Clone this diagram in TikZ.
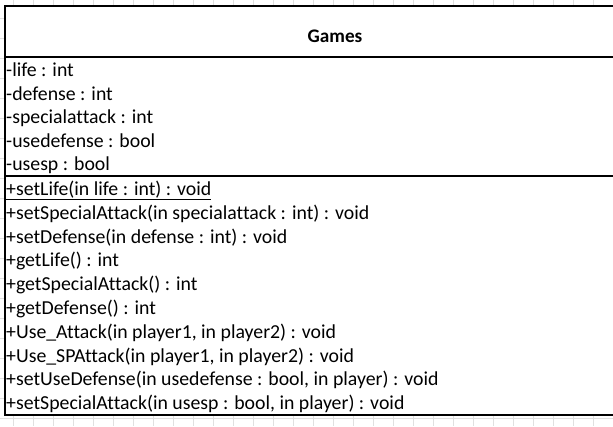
\documentclass[tikz,border=0pt]{standalone}
\usepackage{fontspec}
\setmainfont[Ligatures=CommonOff]{Carlito}
\begin{document}
\begin{tikzpicture}[x=1pt,y=-1pt,
  txt/.style={anchor=base west,inner sep=0pt,font=\fontsize{19.8}{23}\selectfont},
  ttl/.style={anchor=base,inner sep=0pt,font=\fontsize{19.2}{23}\selectfont\bfseries},
  gridln/.style={draw=black!12,line width=0.8pt},
  boxln/.style={draw=black,line width=1.2pt}]
\useasboundingbox (0,0) rectangle (613,426);
\clip (0,0) rectangle (613,426);
\fill[white] (0,0) rectangle (613,426);
\foreach \i in {0,...,30} {\draw[gridln] (13.7+20*\i,0) -- (13.7+20*\i,426);}
\foreach \j in {0,...,21} {\draw[gridln] (0,18+20*\j) -- (613,18+20*\j);}
\path[fill=white,boxln] (5,6) rectangle (666,415);
\draw[boxln] (5,57) -- (666,57);
\draw[boxln] (5,176) -- (666,176);
\node[ttl] (title) at (335,42.5) {Games};
\node[txt] (a1) at (6,76.5) {-life : int};
\node[txt] (a2) at (6,100) {-defense : int};
\node[txt] (a3) at (6,123.5) {-specialattack : int};
\node[txt] (a4) at (6,147) {-usedefense : bool};
\node[txt] (a5) at (6,170.5) {-usesp : bool};
\node[txt] (m1) at (6,195.5) {\underline{+setLife(in life : int) : void}};
\node[txt] (m2) at (6,219.3) {+setSpecialAttack(in specialattack : int) : void};
\node[txt] (m3) at (6,243.1) {+setDefense(in defense : int) : void};
\node[txt] (m4) at (6,266.9) {+getLife() : int};
\node[txt] (m5) at (6,290.7) {+getSpecialAttack() : int};
\node[txt] (m6) at (6,314.5) {+getDefense() : int};
\node[txt] (m7) at (6,338.3) {+Use\_Attack(in player1, in player2) : void};
\node[txt] (m8) at (6,362.1) {+Use\_SPAttack(in player1, in player2) : void};
\node[txt] (m9) at (6,385.9) {+setUseDefense(in usedefense : bool, in player) : void};
\node[txt] (m10) at (6,409.5) {+setSpecialAttack(in usesp : bool, in player) : void};
\end{tikzpicture}
\end{document}
